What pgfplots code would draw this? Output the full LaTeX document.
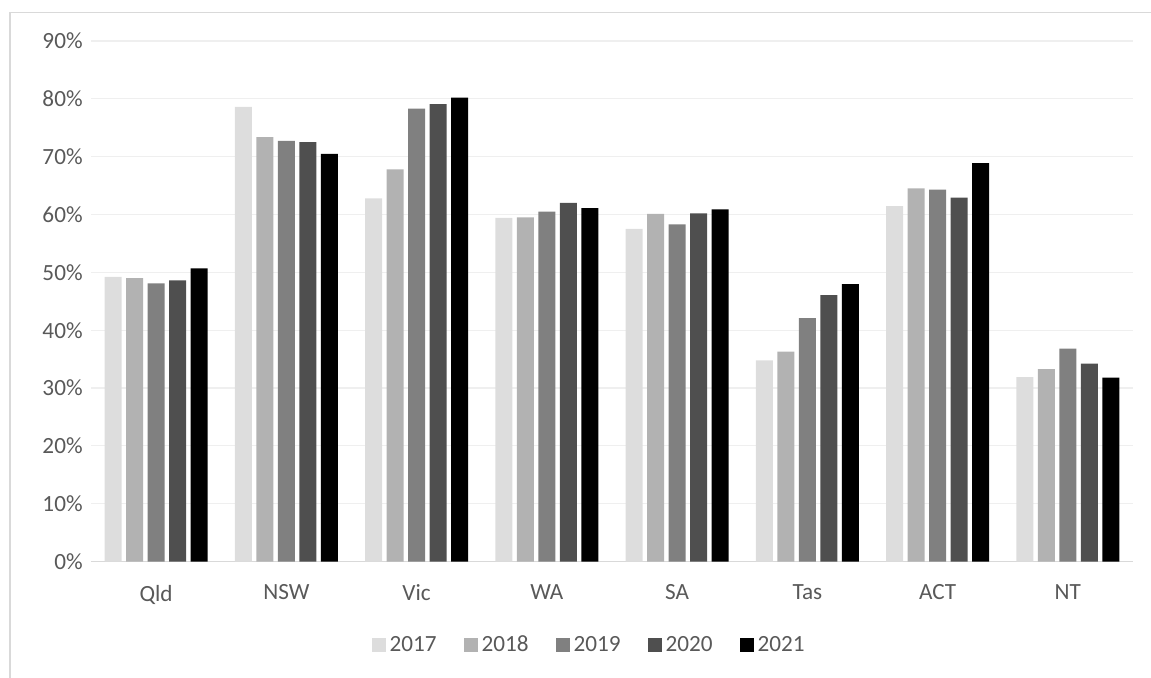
\documentclass[border=0pt]{standalone}
\usepackage{pgfplots}
\pgfplotsset{compat=1.18}
\usepackage{fontspec}
\setmainfont{Carlito}
\definecolor{cA}{HTML}{DDDDDD}
\definecolor{cB}{HTML}{B2B2B2}
\definecolor{cC}{HTML}{808080}
\definecolor{cD}{HTML}{4F4F4F}
\definecolor{cE}{HTML}{000000}
\definecolor{txt}{HTML}{595959}
\definecolor{grd}{HTML}{EFEFEF}
\definecolor{frm}{HTML}{D9D9D9}
\begin{document}
\begin{tikzpicture}[x=0.5pt,y=0.5pt]
\useasboundingbox (0,0) rectangle (1151,677);
\draw[frm, line width=0.75pt] (10,-5) -- (10,664.5) -- (1160,664.5);
\begin{axis}[
  at={(45.5pt,57.75pt)}, anchor=south west,
  scale only axis, width=521pt, height=260.25pt,
  xmin=-0.5, xmax=7.5, ymin=0, ymax=90,
  ybar=2.25pt, bar width=8.5pt,
  xtick={0,...,7}, xticklabels={Qld,NSW,Vic,WA,SA,Tas,ACT,NT},
  ytick={0,10,...,90},
  yticklabel={\pgfmathprintnumber{\tick}\%},
  /pgf/number format/assume math mode=true,
  major tick length=0pt,
  axis x line*=bottom, axis y line*=left,
  x axis line style={draw=frm, line width=0.75pt},
  y axis line style={draw=none},
  ymajorgrids, grid style={draw=grd, line width=0.6pt},
  tick label style={font=\fontsize{11.6}{13}\selectfont, text=txt},
  yticklabel style={anchor=east, inner sep=0pt, xshift=-4pt},
  xticklabel style={anchor=north, inner sep=0pt, yshift=-11.5pt},
  legend style={at={(0.479,-0.1604)}, anchor=center, draw=none, fill=none,
    legend columns=5, font=\fontsize{11.6}{13}\selectfont, text=txt,
    /tikz/every even column/.append style={column sep=11.5pt},
    inner sep=0pt},
  legend image code/.code={\fill[#1] (0pt,-3.5pt) rectangle (7pt,3.5pt);},
]
\addplot[fill=cA, draw=none] coordinates {(0,49.2) (1,78.6) (2,62.8) (3,59.4) (4,57.5) (5,34.8) (6,61.45) (7,31.9)};
\addplot[fill=cB, draw=none] coordinates {(0,49.0) (1,73.4) (2,67.8) (3,59.5) (4,60.1) (5,36.3) (6,64.5) (7,33.25)};
\addplot[fill=cC, draw=none] coordinates {(0,48.1) (1,72.75) (2,78.3) (3,60.5) (4,58.3) (5,42.1) (6,64.3) (7,36.8)};
\addplot[fill=cD, draw=none] coordinates {(0,48.6) (1,72.5) (2,79.1) (3,62.0) (4,60.2) (5,46.05) (6,62.9) (7,34.2)};
\addplot[fill=cE, draw=none] coordinates {(0,50.7) (1,70.5) (2,80.2) (3,61.1) (4,60.9) (5,47.95) (6,68.9) (7,31.8)};
\legend{2017,2018,2019,2020,2021}
\end{axis}
\end{tikzpicture}
\end{document}
